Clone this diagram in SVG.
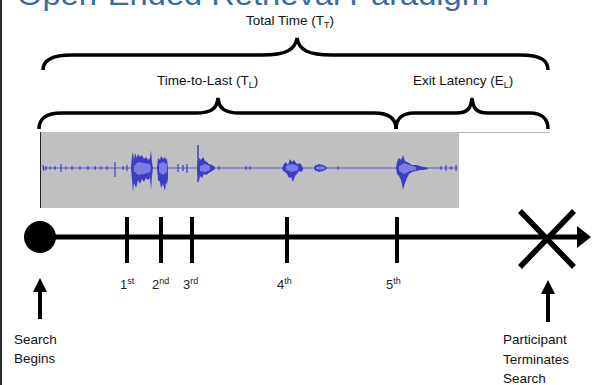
<svg xmlns="http://www.w3.org/2000/svg" width="596" height="385" viewBox="0 0 596 385">
  <style>
    .lbl { font-family: "Liberation Sans", Arial, sans-serif; font-size: 13.5px; fill: #111; }
    .ord { font-family: "Liberation Sans", Arial, sans-serif; font-size: 13px; fill: #222; }
    .sup { font-size: 9px; }
    .sub { font-size: 9px; }
    .brace { fill: none; stroke: #000; stroke-width: 3.5; stroke-linecap: butt; }
    .tick { stroke: #000; stroke-width: 4; }
    .wave { fill: #3c3cc9; }
    .wave-in { fill: #7c7ce2; }
  </style>

  <rect x="0" y="0" width="596" height="385" fill="#fff"/>
  <!-- slide edge -->
  <line x1="1" y1="0" x2="1" y2="385" stroke="#2a2a2a" stroke-width="2"/>

  <!-- slide title, running off the top edge -->
  <text x="17" y="5" font-family="Liberation Sans, Arial, sans-serif" font-size="30" fill="#3a6aa5" textLength="472" lengthAdjust="spacingAndGlyphs">Open-Ended Retrieval Paradigm</text>

  <!-- brace labels -->
  <text class="lbl" x="246" y="25">Total Time (T<tspan class="sub" dy="3">T</tspan><tspan dy="-3">)</tspan></text>
  <text class="lbl" x="157" y="85">Time-to-Last (T<tspan class="sub" dy="3">L</tspan><tspan dy="-3">)</tspan></text>
  <text class="lbl" x="413" y="85">Exit Latency (E<tspan class="sub" dy="3">L</tspan><tspan dy="-3">)</tspan></text>

  <!-- braces -->
  <g id="braces">
    <path class="brace" d="M43,70 C43,61 50,55 72,55 L262,55 C286,55 295,50 297,38 C299,50 308,55 332,55 L520,55 C542,55 548,61 548,70"/>
    <path class="brace" d="M39,129 C39,119 45,113 62,113 L196,113 C211,113 217,109 218,98 C219,109 225,113 240,113 L374,113 C390,113 396,119 396,129"/>
    <path class="brace" d="M396,129 C396,119 402,113 414,113 L456,113 C467,113 471,109 472,98 C473,109 477,113 488,113 L530,113 C542,113 548,119 548,129"/>
  </g>

  <!-- recording waveform -->
  <g id="waveform">
    <line x1="459" y1="132.5" x2="550" y2="132.5" stroke="#b0b0b0" stroke-width="1"/>
    <rect x="40" y="132" width="419" height="76" fill="#c0c0c0"/>
    <line x1="40.5" y1="132" x2="40.5" y2="208" stroke="#222" stroke-width="1"/>
    <line x1="42" y1="168" x2="458" y2="168" stroke="#7a7ad8" stroke-width="1.6"/>
    <!-- low-level noise -->
    <path d="M43,165 L44,171 M46,166 L46,170 M50,166.5 L50,169.5 M55,166 L55,170 M61,164 L61,172 M66,166.5 L66,169.5 M72,166 L72,170 M80,166.5 L80,169.5 M88,166 L88,170 M95,166 L95,170 M101,166.5 L101,169.5 M107,166 L107,170 M115,162 L115,177 M123,166 L123,170 M127,165 L127,171 M178,164 L178,172 M183,165 L183,171 M187,164 L187,173 M219,166 L219,170 M246,166 L246,170 M250,166.5 L250,169.5 M338,166.5 L338,169.5 M441,166 L441,170 M446,165 L446,171 M451,166 L451,170 M456,165 L456,171" stroke="#3c3cc9" stroke-width="1.2"/>
    <!-- bursts -->
    <path class="wave" d="M131,168 L132,156 133,152 134,160 135,153 137,158 138,154 140,157 142,155 144,159 146,157 148,160 150,158 151,150 152,162 153,168 152,176 151,190 150,178 148,180 146,178 144,182 142,179 140,184 138,180 136,188 134,183 133,192 132,180 Z"/>
    <path class="wave-in" d="M134,166 L138,162 144,163 150,164 151,168 150,172 144,174 138,175 134,171 Z"/>
    <path class="wave" d="M157,168 L158,158 160,160 161,156 163,159 165,157 166,160 167,158 168,168 168,178 167,185 166,182 165,191 163,184 161,188 160,182 158,180 Z"/>
    <path class="wave-in" d="M159,164 L163,162 167,164 167,172 163,175 159,172 Z"/>
    <line x1="198" y1="145" x2="198" y2="182" stroke="#3c3cc9" stroke-width="1.5"/>
    <path class="wave" d="M197,168 L199,158 201,160 203,157 205,161 207,162 209,164 212,165 215,167 215,169 212,171 209,173 206,175 204,174 202,178 200,176 199,181 197,170 Z"/>
    <path class="wave-in" d="M200,166 L205,164 210,166 210,170 205,172 200,171 Z"/>
    <path class="wave" d="M282,168 L284,164 286,162 288,165 290,159 292,162 294,160 296,163 298,164 300,163 302,166 303,168 303,170 301,172 299,171 297,174 295,176 293,182 291,177 289,178 287,174 285,172 283,171 Z"/>
    <path class="wave-in" d="M286,166 L292,164 298,166 298,170 292,172 286,170 Z"/>
    <path class="wave" d="M314,168 L315,165.5 317,165 319,164 321,164.5 323,165 325,166 327,167.5 327,168.5 325,170 323,171 321,171.5 319,172 317,171 315,170.5 Z"/>
    <path class="wave-in" d="M316,167 L321,166 325,167 325,169 321,170 316,169 Z"/>
    <path class="wave" d="M396,168 L397,162 399,158 401,160 403,155 405,161 407,162 409,163 412,165 416,165 420,166 424,167 428,168 428,169 424,170 420,170 416,171 412,172 409,174 407,178 405,183 403,190 401,180 399,176 397,174 Z"/>
    <path class="wave-in" d="M399,166 L404,163 410,165 416,167 416,170 410,171 404,174 399,171 Z"/>
  </g>

  <!-- timeline -->
  <g id="connectors">
    <line x1="40" y1="237" x2="578" y2="237" stroke="#000" stroke-width="5"/>
    <path d="M577,226 L591,237 L577,248 Z" fill="#000"/>
    <line x1="40" y1="319" x2="40" y2="291" stroke="#000" stroke-width="4"/>
    <path d="M33,292 L40,278 L47,292 Z" fill="#000"/>
    <line x1="548" y1="322" x2="548" y2="293" stroke="#000" stroke-width="4"/>
    <path d="M541,294 L548,280 L555,294 Z" fill="#000"/>
  </g>

  <g id="start">
    <circle cx="40" cy="237" r="16" fill="#000"/>
    <text class="lbl" x="14" y="344">Search</text>
    <text class="lbl" x="14" y="363">Begins</text>
  </g>

  <g id="recall-1">
    <line class="tick" x1="127" y1="217" x2="127" y2="263"/>
    <text class="ord" x="120" y="289">1<tspan class="sup" dy="-5">st</tspan></text>
  </g>
  <g id="recall-2">
    <line class="tick" x1="161" y1="217" x2="161" y2="263"/>
    <text class="ord" x="152" y="289">2<tspan class="sup" dy="-5">nd</tspan></text>
  </g>
  <g id="recall-3">
    <line class="tick" x1="192" y1="217" x2="192" y2="263"/>
    <text class="ord" x="183" y="289">3<tspan class="sup" dy="-5">rd</tspan></text>
  </g>
  <g id="recall-4">
    <line class="tick" x1="287" y1="217" x2="287" y2="263"/>
    <text class="ord" x="277" y="289">4<tspan class="sup" dy="-5">th</tspan></text>
  </g>
  <g id="recall-5">
    <line class="tick" x1="397" y1="217" x2="397" y2="263"/>
    <text class="ord" x="386" y="289">5<tspan class="sup" dy="-5">th</tspan></text>
  </g>

  <g id="end">
    <path d="M520,211 L574,267 M574,211 L520,267" stroke="#000" stroke-width="5.5"/>
    <text class="lbl" x="503" y="344">Participant</text>
    <text class="lbl" x="503" y="364">Terminates</text>
    <text class="lbl" x="503" y="383">Search</text>
  </g>
</svg>
